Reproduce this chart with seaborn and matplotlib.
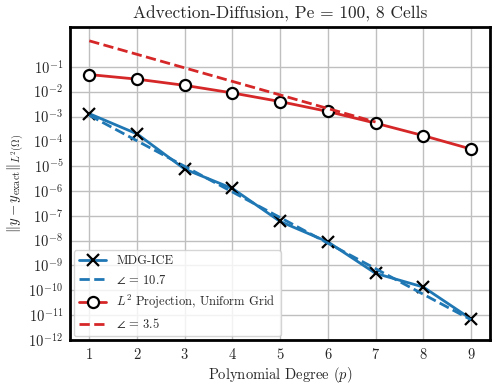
import numpy as np
import matplotlib
matplotlib.use("Agg")
import matplotlib.pyplot as plt
import seaborn as sns

# polynomial degree
p = [1, 2, 3, 4, 5, 6, 7, 8, 9]
# MDG-ICE error and its rate line
mdg_err = [1.3e-3, 2.0e-4, 7.6e-6, 1.26e-6, 5.9e-8, 8.9e-9, 4.8e-10, 1.35e-10, 7.0e-12]
mdg_fit = [1.12e-3, 1.05e-4, 9.8e-6, 9.1e-7, 8.5e-8, 7.9e-9, 7.4e-10, 6.9e-11, 6.5e-12]
# L2 projection on uniform grid and its rate line
proj_err = [4.9e-2, 3.2e-2, 1.8e-2, 8.9e-3, 4.0e-3, 1.6e-3, 5.4e-4, 1.7e-4, 4.9e-5]
p_fit = [1, 2, 3, 4, 5, 6, 7]
proj_fit = [1.12, 3.2e-1, 9.1e-2, 2.6e-2, 7.4e-3, 2.1e-3, 6.0e-4]

yticks = [10.0**k for k in range(-12, 0)]

sns.set_style("whitegrid")
plt.rcParams["font.family"] = "serif"
plt.rcParams["font.serif"] = ["cmr10", "DejaVu Serif"]
plt.rcParams["mathtext.fontset"] = "cm"
plt.rcParams["axes.formatter.use_mathtext"] = True
plt.rcParams["axes.unicode_minus"] = False

blue = "#1f77b4"
red = "#d62728"

fig = plt.figure(figsize=(4.98, 3.88), dpi=100)
ax = fig.add_axes([0.141, 0.124, 0.843, 0.806])

sns.lineplot(x=p, y=mdg_err, ax=ax, color=blue, lw=2, marker="x", ms=8,
             mec="k", mew=1.6, label="MDG-ICE")
sns.lineplot(x=p, y=mdg_fit, ax=ax, color=blue, lw=2, linestyle="--",
             label=r"$\angle$ = 10.7")
sns.lineplot(x=p, y=proj_err, ax=ax, color=red, lw=2, marker="o", ms=8,
             mfc="white", mec="k", mew=1.6, label=r"$L^2$ Projection, Uniform Grid")
sns.lineplot(x=p_fit, y=proj_fit, ax=ax, color=red, lw=2, linestyle="--",
             label=r"$\angle$ = 3.5")

ax.set_yscale("log")
ax.set_ylim(1e-12, 10**0.6)
ax.set_xlim(0.6, 9.4)
ax.set_yticks(yticks)
ax.minorticks_off()
ax.set_xticks(p)
ax.grid(True, color="#bfbfbf", lw=1)
for s in ax.spines.values():
    s.set_color("black")
    s.set_linewidth(2)
ax.tick_params(axis="both", length=3, width=1, color="k", labelsize=10.5, pad=2)

ax.set_title("Advection-Diffusion, Pe = 100, 8 Cells", fontsize=12.5)
ax.set_xlabel(r"Polynomial Degree ($p$)", fontsize=10.5, labelpad=2)
ax.set_ylabel(r"$\|y - y_{\rm exact}\|_{L^2(\Omega)}$", fontsize=10.5, labelpad=2)
ax.legend(loc="lower left", fontsize=9, framealpha=0.8, handlelength=2.2,
          borderaxespad=0.3)

fig.savefig("out.png", dpi=100)
